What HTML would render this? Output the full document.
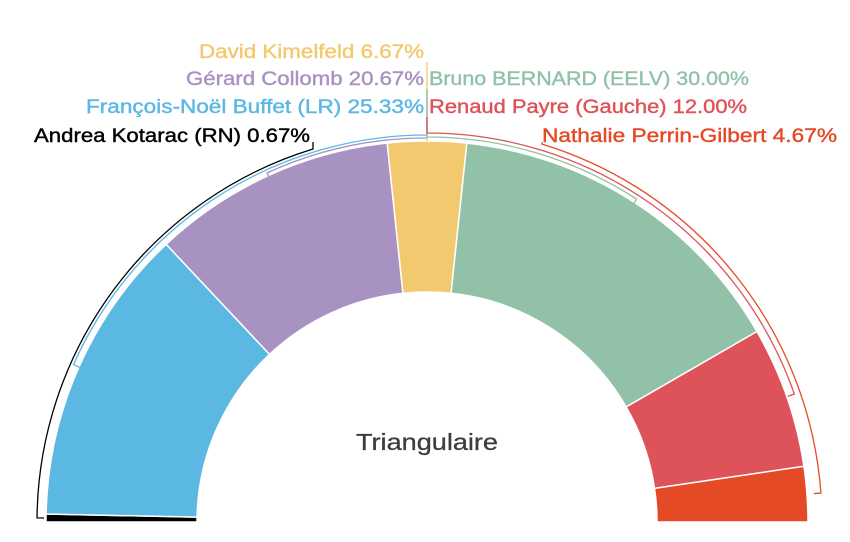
<!DOCTYPE html>
<html><head><meta charset="utf-8"><style>
html,body{margin:0;padding:0;background:#fff;}
svg{display:block;font-family:"Liberation Sans",sans-serif;}
</style></head><body>
<svg id="chart" width="850" height="542" viewBox="0 0 850 542"></svg>
<script>
const names = ["Andrea Kotarac (RN)", "François-Noël Buffet (LR)", "Gérard Collomb", "David Kimelfeld", "Bruno BERNARD (EELV)", "Renaud Payre (Gauche)", "Nathalie Perrin-Gilbert"];
const values = [0.67, 25.33, 20.67, 6.67, 30.00, 12.00, 4.67];
const colors = ["#000000", "#5bb8e3", "#a892c2", "#f2c96e", "#91c2a8", "#de5259", "#e44a26"];
const labelTexts = ["Andrea Kotarac (RN) 0.67%", "François-Noël Buffet (LR) 25.33%", "Gérard Collomb 20.67%", "David Kimelfeld 6.67%", "Bruno BERNARD (EELV) 30.00%", "Renaud Payre (Gauche) 12.00%", "Nathalie Perrin-Gilbert 4.67%"];
const title = "Triangulaire";

// layout (not data)
const cx = 427, cy = 522, rOut = 381, rIn = 230;
const labelLayout = [
  {x:310, y:142, anchor:"end", w:276, br:390, startX:313},
  {x:424, y:113, anchor:"end", w:338, br:387, startX:null},
  {x:424, y:85,  anchor:"end", w:238, br:384, startX:null},
  {x:424, y:58,  anchor:"end", w:225, br:null, startX:null},
  {x:429, y:85,  anchor:"start", w:320, br:385, startX:null},
  {x:429, y:113, anchor:"start", w:318, br:389, startX:null},
  {x:542, y:142, anchor:"start", w:295, br:395, startX:542}
];

const svg = document.getElementById('chart');
const NS = "http://www.w3.org/2000/svg";
function mk(tag, attrs){const e=document.createElementNS(NS,tag);for(const k in attrs)e.setAttribute(k,attrs[k]);return e;}
const total = values.reduce((a,b)=>a+b,0);
function ang(cum){return Math.PI - (cum/total)*Math.PI;}
function pt(a,r){return [cx + r*Math.cos(a), cy - r*Math.sin(a)];}

let cum = 0;
values.forEach((v,i)=>{
  const a0 = ang(cum), a1 = ang(cum+v);
  const mid = ang(cum+v/2);
  cum += v;
  const p0=pt(a0,rOut), p1=pt(a1,rOut), q1=pt(a1,rIn), q0=pt(a0,rIn);
  const large = (a0-a1) > Math.PI ? 1 : 0;
  const d = `M${p0[0]},${p0[1]} A${rOut},${rOut} 0 ${large} 1 ${p1[0]},${p1[1]} L${q1[0]},${q1[1]} A${rIn},${rIn} 0 ${large} 0 ${q0[0]},${q0[1]} Z`;
  const path = mk('path',{d:d, fill:colors[i], stroke:"#ffffff", 'stroke-width':1.5});
  
  
  svg.appendChild(path);

  const L = labelLayout[i];
  // bracket / leader
  let ld;
  if (L.br === null) {
    const top = pt(mid, rOut);
    ld = `M${cx},${L.y+4} L${cx},${top[1]}`;
  } else {
    let sa, start;
    if (L.startX !== null) {
      const c = (L.startX - cx)/L.br;
      sa = Math.acos(c);
      start = pt(sa, L.br);
      ld = `M${start[0]},${L.y} L${start[0]},${start[1]}`;
    } else {
      sa = Math.PI/2;
      start = pt(sa, L.br);
      ld = `M${cx},${L.y+4} L${cx},${start[1]}`;
    }
    const e = pt(mid, L.br), t = pt(mid, L.br-7);
    const sweep = mid < sa ? 1 : 0;
    ld += ` A${L.br},${L.br} 0 0 ${sweep} ${e[0]},${e[1]} L${t[0]},${t[1]}`;
  }
  const lead = mk('path',{d:ld, fill:"none", stroke:colors[i], 'stroke-width':1.3});
  
  
  svg.appendChild(lead);

  const t = mk('text',{x:L.x, y:L.y, 'text-anchor':L.anchor, fill:colors[i], stroke:colors[i], 'stroke-width':0.4, 'font-size':19, textLength:L.w, lengthAdjust:"spacingAndGlyphs"});
  t.textContent = labelTexts[i];
  
  
  svg.appendChild(t);
});

const tt = mk('text',{x:cx, y:450, 'text-anchor':'middle', fill:"#3d3d3d", stroke:"#3d3d3d", 'stroke-width':0.3, 'font-size':23, textLength:142, lengthAdjust:"spacingAndGlyphs"});
tt.textContent = title;


svg.appendChild(tt);
</script>
</body></html>
